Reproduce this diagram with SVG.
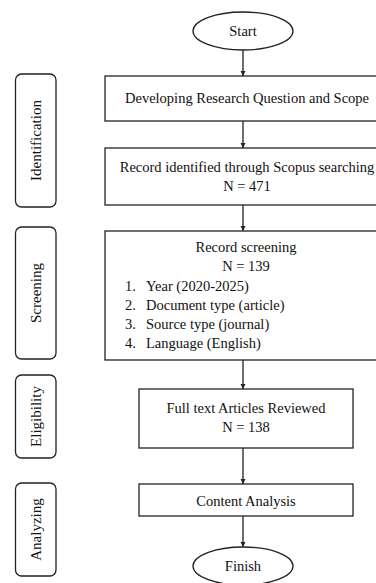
<svg xmlns="http://www.w3.org/2000/svg" width="376" height="583" viewBox="0 0 376 583">
<defs>
<style>
.box{fill:#fff;stroke:#222;stroke-width:1.3}
.lane{fill:#fff;stroke:#222;stroke-width:1.3}
.t{font-family:"Liberation Serif","Times New Roman",serif;font-size:14.5px;fill:#111}
.c{text-anchor:middle}
.lt{font-family:"Liberation Serif","Times New Roman",serif;font-size:15px;fill:#111;text-anchor:middle}
.edge{stroke:#222;stroke-width:1.3;fill:none;marker-end:url(#ah)}
</style>
<marker id="ah" viewBox="0 0 10 10" refX="10" refY="5" markerWidth="5" markerHeight="6" markerUnits="userSpaceOnUse" orient="auto"><path d="M0,0 L10,5 L0,10 z" fill="#222"/></marker>
</defs>
<rect width="376" height="583" fill="#fff"/>
<g id="lane-identification"><rect class="lane" x="15.5" y="74" width="40.5" height="133" rx="6"/><text class="lt" transform="translate(41,140.5) rotate(-90)">Identification</text></g>
<g id="lane-screening"><rect class="lane" x="15.5" y="227" width="40.5" height="132" rx="6"/><text class="lt" transform="translate(41,293) rotate(-90)">Screening</text></g>
<g id="lane-eligibility"><rect class="lane" x="15.5" y="375" width="40.5" height="83" rx="6"/><text class="lt" transform="translate(41,416.5) rotate(-90)">Eligibility</text></g>
<g id="lane-analyzing"><rect class="lane" x="15.5" y="483" width="40.5" height="93" rx="6"/><text class="lt" transform="translate(41,529.5) rotate(-90)">Analyzing</text></g>
<g id="start"><ellipse class="box" cx="243" cy="31" rx="50" ry="19"/><text class="t c" x="243" y="36">Start</text></g>
<g id="scope"><rect class="box" x="105" y="76" width="285" height="45"/><text class="t c" x="247" y="103">Developing Research Question and Scope</text></g>
<g id="identified"><rect class="box" x="105" y="148" width="285" height="57"/><text class="t c" x="247" y="172">Record identified through Scopus searching</text><text class="t c" x="247" y="191">N = 471</text></g>
<g id="screening"><rect class="box" x="105" y="231" width="285" height="129"/><text class="t c" x="246" y="252">Record screening</text><text class="t c" x="246" y="271">N = 139</text><text class="t" x="125" y="291">1.</text><text class="t" x="146" y="291">Year (2020-2025)</text><text class="t" x="125" y="310">2.</text><text class="t" x="146" y="310">Document type (article)</text><text class="t" x="125" y="329">3.</text><text class="t" x="146" y="329">Source type (journal)</text><text class="t" x="125" y="348">4.</text><text class="t" x="146" y="348">Language (English)</text></g>
<g id="fulltext"><rect class="box" x="139" y="389" width="214" height="59"/><text class="t c" x="246" y="413">Full text Articles Reviewed</text><text class="t c" x="246" y="432">N = 138</text></g>
<g id="content"><rect class="box" x="139" y="484" width="214" height="32"/><text class="t c" x="246" y="506">Content Analysis</text></g>
<g id="finish"><ellipse class="box" cx="243" cy="566" rx="50" ry="19"/><text class="t c" x="243" y="571">Finish</text></g>
<g id="connectors">
<line class="edge" x1="243" y1="50" x2="243" y2="76"/>
<line class="edge" x1="243" y1="121" x2="243" y2="148"/>
<line class="edge" x1="243" y1="205" x2="243" y2="231"/>
<line class="edge" x1="243" y1="360" x2="243" y2="389"/>
<line class="edge" x1="243" y1="448" x2="243" y2="484"/>
<line class="edge" x1="243" y1="516" x2="243" y2="547"/>
</g>
</svg>
